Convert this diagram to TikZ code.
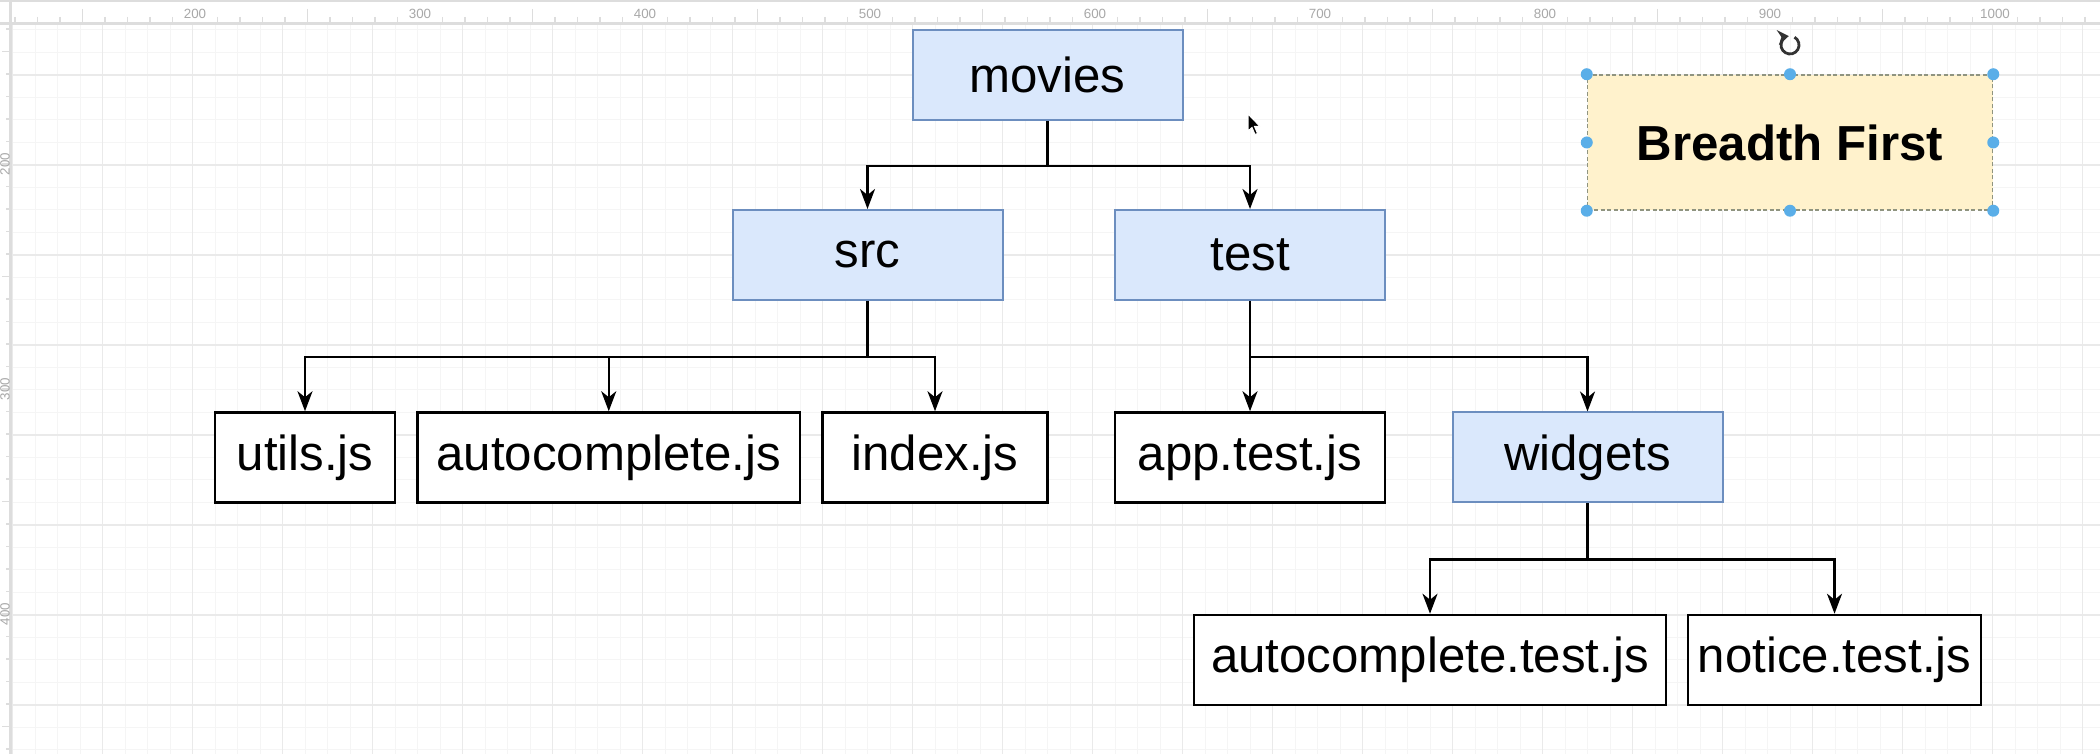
\documentclass[tikz,border=0pt]{standalone}
\usepackage{fontspec}
\setmainfont{Liberation Sans}
\usetikzlibrary{arrows.meta}
\definecolor{folderfill}{HTML}{DAE8FC}
\definecolor{folderline}{HTML}{6C8EBF}
\definecolor{notefill}{HTML}{FFF2CC}
\definecolor{noteline}{HTML}{8F9480}
\definecolor{handle}{HTML}{5AAEE8}
\definecolor{gridminor}{HTML}{F5F5F5}
\definecolor{gridmajor}{HTML}{EAEAEA}
\definecolor{rulerline}{HTML}{DDDDDD}
\definecolor{rulertext}{HTML}{A8A8A8}
\begin{document}
\begin{tikzpicture}[x=0.1mm, y=-0.1mm,
  every node/.style={font=\fontsize{14}{16}\selectfont},
  folder/.style={draw=folderline, fill=folderfill, line width=0.2mm, minimum height=9mm, inner sep=0pt},
  file/.style={draw=black, fill=white, line width=0.25mm, minimum height=9mm, inner sep=0pt},
  link/.style={draw=black, line width=0.25mm, -{Stealth[length=2mm, width=1.5mm, inset=0.6mm]}},
  handledot/.style={circle, fill=handle, minimum size=1.2mm, inner sep=0pt},
  rulerlabel/.style={font=\fontsize{3.8}{4}\selectfont, text=rulertext, inner sep=0pt}]
\useasboundingbox (0,0) rectangle (2100,754);
\fill[white] (0,0) rectangle (2100,754);
%% The grid of the drawing canvas: faint lines every 22.5 and darker ones every 90.
\foreach \x in {12.5,35,...,2100} \draw[gridminor, line width=0.1mm] (\x,24) -- (\x,754);
\foreach \y in {30,52.5,...,754} \draw[gridminor, line width=0.1mm] (10,\y) -- (2100,\y);
\foreach \x in {12.5,102.5,...,2100} \draw[gridmajor, line width=0.15mm] (\x,24) -- (\x,754);
\foreach \y in {75,165,...,754} \draw[gridmajor, line width=0.15mm] (10,\y) -- (2100,\y);
%% Rulers along the top and the left edge.
\fill[rulerline] (0,0) rectangle (2100,2.5);
\draw[rulerline, line width=0.3mm] (0,24) -- (2100,24);
\draw[rulerline, line width=0.3mm] (10.5,2.5) -- (10.5,754);
\foreach \v in {120,130,...,1040} {
  \pgfmathtruncatemacro\r{mod(\v,100)}
  \pgfmathtruncatemacro\h{mod(\v,50)}
  \ifnum\r=0 \else
    \ifnum\h=0 \draw[rulerline, line width=0.12mm] ({-255+2.25*\v},9) -- ({-255+2.25*\v},24);
    \else \draw[rulerline, line width=0.12mm] ({-255+2.25*\v},17) -- ({-255+2.25*\v},24); \fi
  \fi
}
\foreach \v in {200,300,...,1000} \node[rulerlabel] (top\v) at ({-255+2.25*\v},14) {\v};
\foreach \v in {140,150,...,460} {
  \pgfmathtruncatemacro\h{mod(\v,50)}
  \ifnum\h=0 \draw[rulerline, line width=0.12mm] (2,{-286+2.25*\v}) -- (10,{-286+2.25*\v});
  \else \draw[rulerline, line width=0.12mm] (6,{-286+2.25*\v}) -- (10,{-286+2.25*\v}); \fi
}
\begin{scope}
  \clip (0,24) rectangle (10,754);
  \foreach \v in {200,300,400} \node[rulerlabel, rotate=90] (left\v) at (5,{-286+2.25*\v}) {\v};
\end{scope}
%% Folders are blue, files are white.
\node[folder, minimum width=27mm] (movies) at (1047.5,75) {movies};
\node[folder, minimum width=27mm] (src) at (867.5,255) {src};
\node[folder, minimum width=27mm] (test) at (1250,255) {test};
\node[file, minimum width=18mm] (utils) at (305,457.5) {utils.js};
\node[file, minimum width=38.25mm] (autocomplete) at (608.75,457.5) {autocomplete.js};
\node[file, minimum width=22.5mm] (index) at (935,457.5) {index.js};
\node[file, minimum width=27mm] (apptest) at (1250,457.5) {app.test.js};
\node[folder, minimum width=27mm] (widgets) at (1587.5,457.5) {widgets};
\node[file, minimum width=47.2mm] (autotest) at (1430,660) {autocomplete.test.js};
\node[file, minimum width=29.3mm] (noticetest) at (1834.5,660) {notice.test.js};
%% The selected note with its handles and the rotate icon.
\node[draw=noteline, fill=notefill, line width=0.15mm, dash pattern=on 0.4mm off 0.25mm,
  minimum width=40.5mm, minimum height=13.5mm, inner sep=0pt,
  font=\bfseries\fontsize{14}{16}\selectfont] (breadth) at (1790,142.5) {Breadth First};
\foreach \a/\n in {north west/nw, north/n, north east/ne, west/w, east/e, south west/sw, south/s, south east/se}
  \node[handledot] (handle\n) at (breadth.\a) {};
\draw[black!80, line width=0.28mm, -{Stealth[length=1.1mm, width=1.5mm]}]
  ([shift={(-60:9)}]1790,45) arc[start angle=-60, end angle=262, radius=9];
%% Mouse pointer.
\filldraw[fill=black, draw=white, line width=0.1mm] (1248,114) -- ++(0,17) -- ++(4,-3.5) -- ++(3,7)
  -- ++(2.5,-1) -- ++(-3,-7) -- ++(5.5,0) -- cycle;
%% Elbow connectors from each folder down to its children.
\foreach \c in {src, test} \draw[link] (movies.south) -- ++(0,45) -| (\c.north);
\foreach \c in {utils, autocomplete, index} \draw[link] (src.south) -- ++(0,56.25) -| (\c.north);
\foreach \c in {apptest, widgets} \draw[link] (test.south) -- ++(0,56.25) -| (\c.north);
\foreach \c in {autotest, noticetest} \draw[link] (widgets.south) -- ++(0,56.25) -| (\c.north);
\end{tikzpicture}
\end{document}
